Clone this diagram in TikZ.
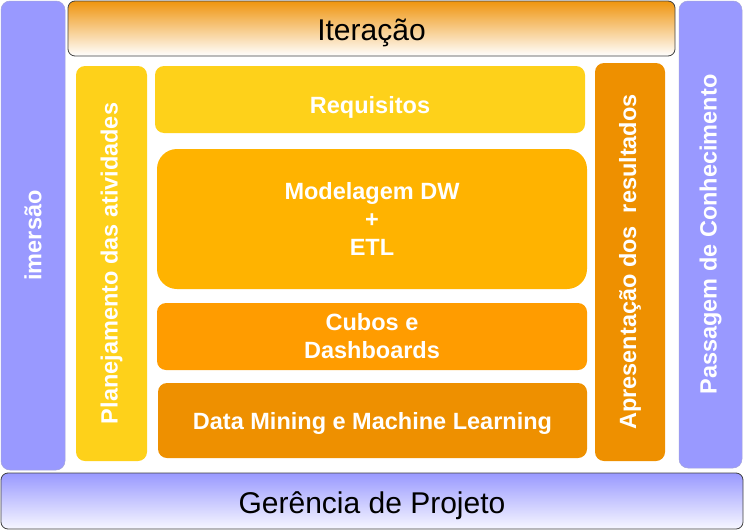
\documentclass[tikz,border=0pt]{standalone}
\usepackage{fontspec}
\setmainfont{Liberation Sans}
\usepackage{tikz}
\usetikzlibrary{positioning}
\usepackage{xcolor}

\definecolor{lilas}{HTML}{9999FF}
\definecolor{amarelo}{HTML}{FED11A}
\definecolor{ambar}{HTML}{FFB300}
\definecolor{laranja}{HTML}{FF9C00}
\definecolor{laranjaesc}{HTML}{EE9000}
\definecolor{laranjatopo}{HTML}{EF950F}

\newcommand{\baixa}[2]{\raisebox{-#1}[0pt][0pt]{#2}}

\begin{document}
\begin{tikzpicture}[
    x=1pt, y=-1pt,
    every node/.style={inner sep=0pt, align=center},
    faixa/.style={draw=black!75, line width=0.8pt, rounded corners=7pt,
        font=\fontsize{30}{32}\selectfont},
    lateral/.style={fill=lilas, draw=lilas!80!black!70, line width=0.5pt, rounded corners=9pt,
        text=white, font=\fontsize{23.5}{27}\selectfont\bfseries, rotate=90},
    etapa/.style={rounded corners=9pt, text=white,
        font=\fontsize{23.5}{28}\selectfont\bfseries}
]
    \useasboundingbox (0,0) rectangle (744,530);

    % side bars
    \node[lateral, minimum width=469pt, minimum height=64pt] (imersao) at (33,235.5) {imersão};
    \node[lateral, minimum width=467pt, minimum height=63pt] (passagem) at (710.5,234.5) {Passagem de Conhecimento};

    % top and bottom bands
    \node[faixa, top color=laranjatopo, bottom color=white,
        minimum width=607pt, minimum height=55pt] (iteracao) at (371.5,28.5)
        {\baixa{11.75pt}{Iteração}};
    \node[faixa, top color=lilas, bottom color=lilas!8,
        minimum width=742pt, minimum height=56pt] (gerencia) at (372,501)
        {\baixa{12pt}{Gerência de Projeto}};

    % inner columns
    \node[etapa, fill=amarelo, rotate=90, minimum width=395pt, minimum height=71pt] (planejamento)
        at (111.5,263.5) {Planejamento das atividades};
    \node[etapa, fill=laranjaesc, rotate=90, minimum width=398pt, minimum height=70pt] (apresentacao)
        at (630,262) {Apresentação dos~~resultados};

    % stages
    \node[etapa, fill=amarelo, minimum width=430pt, minimum height=67pt] (requisitos)
        at (370,99.5) {\baixa{14.4pt}{Requisitos}};
    \node[etapa, fill=ambar, rounded corners=20pt, minimum width=430pt, minimum height=140pt] (modelagem)
        at (372,219) {Modelagem DW\\+\\ETL};
    \node[etapa, fill=laranja, minimum width=430pt, minimum height=67pt] (cubos)
        at (372,336.5) {Cubos e\\Dashboards};
    \node[etapa, fill=laranjaesc, minimum width=429pt, minimum height=75pt] (mining)
        at (372.5,420.5) {\baixa{9pt}{Data Mining e Machine Learning}};
\end{tikzpicture}
\end{document}
